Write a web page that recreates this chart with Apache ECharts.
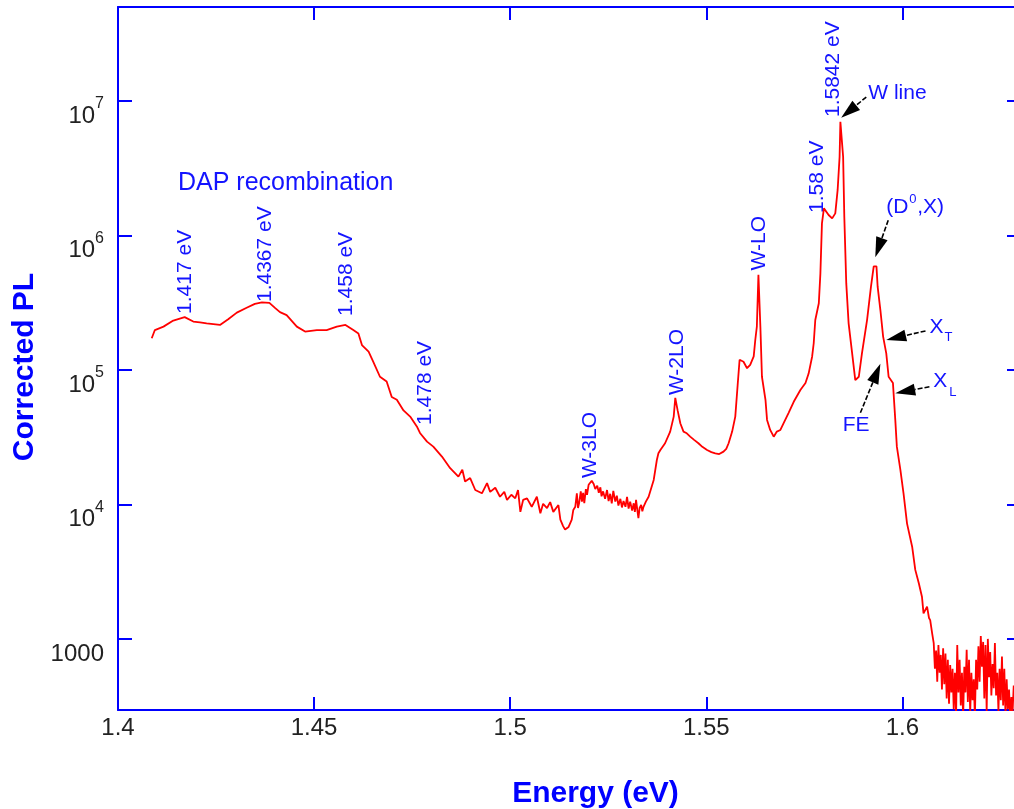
<!DOCTYPE html>
<html>
<head>
<meta charset="utf-8">
<script src="https://cdn.jsdelivr.net/npm/echarts@6/dist/echarts.min.js"></script>
<style>
  html, body { margin: 0; padding: 0; background: #fff; }
  #chart { width: 1014px; height: 809px; }
</style>
</head>
<body>
<div id="chart"></div>
<script>
// Photoluminescence spectrum: photon energy (eV) and corrected PL intensity
const energy = [
  1.4086, 1.4094, 1.4116, 1.4141, 1.4170, 1.4192, 1.4209, 1.4226, 1.4260, 1.4281,
  1.4303, 1.4328, 1.4349, 1.4367, 1.4386, 1.4401, 1.4413, 1.4430, 1.4456, 1.4477,
  1.4507, 1.4532, 1.4558, 1.4580, 1.4600, 1.4613, 1.4622, 1.4639, 1.4651, 1.4668,
  1.4685, 1.4698, 1.4711, 1.4728, 1.4745, 1.4762, 1.4770, 1.4788, 1.4804, 1.4826,
  1.4847, 1.4868, 1.4878, 1.4885, 1.4898, 1.4911, 1.4928, 1.4941, 1.4949, 1.4962,
  1.4974, 1.4985, 1.4992, 1.5003, 1.5013, 1.5020, 1.5026, 1.5033, 1.5043, 1.5055,
  1.5068, 1.5077, 1.5084, 1.5094, 1.5102, 1.5110, 1.5123, 1.5128, 1.5135, 1.5140,
  1.5149, 1.5157, 1.5161, 1.5166, 1.5170, 1.5173, 1.5176, 1.5180, 1.5183, 1.5186,
  1.5189, 1.5193, 1.5196, 1.5200, 1.5204, 1.5208, 1.5213, 1.5217, 1.5222, 1.5226,
  1.5230, 1.5233, 1.5237, 1.5242, 1.5247, 1.5251, 1.5255, 1.5259, 1.5263, 1.5268,
  1.5272, 1.5276, 1.5281, 1.5285, 1.5289, 1.5294, 1.5298, 1.5302, 1.5306, 1.5311,
  1.5315, 1.5318, 1.5321, 1.5324, 1.5327, 1.5330, 1.5334, 1.5337, 1.5340, 1.5346,
  1.5353, 1.5366, 1.5374, 1.5378, 1.5383, 1.5395, 1.5408, 1.5417, 1.5421, 1.5427,
  1.5434, 1.5442, 1.5449, 1.5459, 1.5469, 1.5480, 1.5490, 1.5502, 1.5513, 1.5523,
  1.5533, 1.5544, 1.5551, 1.5557, 1.5566, 1.5574, 1.5580, 1.5585, 1.5595, 1.5604,
  1.5612, 1.5621, 1.5625, 1.5629, 1.5633, 1.5638, 1.5642, 1.5651, 1.5655, 1.5663,
  1.5672, 1.5680, 1.5689, 1.5697, 1.5710, 1.5723, 1.5740, 1.5753, 1.5761, 1.5770,
  1.5774, 1.5778, 1.5787, 1.5791, 1.5795, 1.5800, 1.5812, 1.5821, 1.5829, 1.5835,
  1.5840, 1.5842, 1.5849, 1.5852, 1.5857, 1.5863, 1.5872, 1.5880, 1.5889, 1.5897,
  1.5910, 1.5920, 1.5927, 1.5934, 1.5937, 1.5944, 1.5951, 1.5959, 1.5965, 1.5976,
  1.5982, 1.5986, 1.5995, 1.6003, 1.6012, 1.6025, 1.6033, 1.6042, 1.6050, 1.6054,
  1.6063, 1.6068, 1.6071, 1.6076,
  1.6080, 1.6083, 1.6086, 1.6089, 1.6092, 1.6095, 1.6098, 1.6101, 1.6104, 1.6107,
  1.6110, 1.6113, 1.6116, 1.6119, 1.6122, 1.6125, 1.6128, 1.6131, 1.6134, 1.6137,
  1.6140, 1.6143, 1.6146, 1.6149, 1.6152, 1.6155, 1.6158, 1.6161, 1.6164, 1.6167,
  1.6170, 1.6173, 1.6176, 1.6179, 1.6182, 1.6185, 1.6188, 1.6191, 1.6194, 1.6197,
  1.6200, 1.6203, 1.6206, 1.6209, 1.6212, 1.6215, 1.6218, 1.6221, 1.6224, 1.6227,
  1.6230, 1.6233, 1.6236, 1.6239, 1.6242, 1.6245, 1.6248, 1.6251, 1.6254, 1.6257,
  1.6260, 1.6263, 1.6266, 1.6269, 1.6272, 1.6275, 1.6278, 1.6281, 1.6284
];
const intensity = [
  1.72e5, 1.98e5, 2.10e5, 2.33e5, 2.47e5, 2.29e5, 2.26e5, 2.22e5, 2.16e5, 2.38e5,
  2.67e5, 2.90e5, 3.10e5, 3.18e5, 3.15e5, 2.88e5, 2.69e5, 2.56e5, 2.10e5, 1.93e5,
  1.98e5, 1.98e5, 2.10e5, 2.16e5, 1.98e5, 1.87e5, 1.53e5, 1.37e5, 1.15e5, 8.9e4,
  8.2e4, 6.3e4, 6.0e4, 5.0e4, 4.5e4, 3.8e4, 3.4e4, 2.93e4, 2.69e4, 2.27e4,
  1.86e4, 1.61e4, 1.81e4, 1.48e4, 1.57e4, 1.28e4, 1.21e4, 1.44e4, 1.24e4, 1.33e4,
  1.14e4, 1.24e4, 1.08e4, 1.18e4, 1.11e4, 1.28e4, 8.8e3, 1.08e4, 1.11e4, 9.6e3,
  1.14e4, 8.6e3, 1.01e4, 9.4e3, 1.04e4, 8.8e3, 9.9e3, 7.7e3, 6.9e3, 6.5e3,
  6.8e3, 7.7e3, 9.1e3, 9.6e3, 1.21e4, 9.4e3, 1.03e4, 1.25e4, 1.05e4, 1.22e4,
  1.02e4, 1.30e4, 1.18e4, 1.40e4, 1.37e4, 1.50e4, 1.42e4, 1.30e4, 1.38e4, 1.22e4,
  1.34e4, 1.15e4, 1.25e4, 1.10e4, 1.28e4, 1.06e4, 1.20e4, 1.02e4, 1.26e4, 1.05e4,
  1.16e4, 9.8e3, 1.10e4, 9.5e3, 1.06e4, 9.6e3, 1.14e4, 9.3e3, 1.05e4, 9.0e3,
  1.02e4, 8.8e3, 1.08e4, 9.2e3, 7.9e3, 9.4e3, 9.9e3, 8.9e3, 9.6e3, 1.05e4,
  1.14e4, 1.52e4, 2.14e4, 2.40e4, 2.54e4, 2.85e4, 3.48e4, 4.5e4, 6.2e4, 5.0e4,
  4.0e4, 3.48e4, 3.40e4, 3.19e4, 3.02e4, 2.85e4, 2.68e4, 2.54e4, 2.45e4, 2.40e4,
  2.37e4, 2.47e4, 2.59e4, 2.85e4, 3.48e4, 4.5e4, 7.7e4, 1.19e5, 1.15e5, 1.03e5,
  1.09e5, 1.26e5, 1.67e5, 2.10e5, 5.1e5, 2.10e5, 8.9e4, 6.0e4, 4.25e4, 3.58e4,
  3.19e4, 3.48e4, 3.58e4, 4.0e4, 4.8e4, 5.8e4, 7.1e4, 8.0e4, 9.4e4, 1.26e5,
  1.58e5, 2.35e5, 3.13e5, 5.2e5, 1.23e6, 1.59e6, 1.42e6, 1.34e6, 1.46e6, 2.18e6,
  3.85e6, 7.0e6, 3.85e6, 1.38e6, 4.4e5, 2.22e5, 1.33e5, 8.4e4, 8.9e4, 1.33e5,
  2.35e5, 4.16e5, 5.9e5, 5.9e5, 4.16e5, 2.79e5, 1.77e5, 1.33e5, 8.9e4, 8.0e4,
  4.25e4, 2.69e4, 1.81e4, 1.21e4, 7.2e3, 4.85e3, 3.26e3, 2.59e3, 2.06e3, 1.55e3,
  1.74e3, 1.43e3, 1.38e3, 1.10e3,
  930, 600, 820, 480, 900, 560, 760, 420, 850, 460,
  780, 360, 700, 330, 640, 400, 600, 300, 560, 270,
  900, 400, 700, 320, 560, 260, 620, 400, 830, 340,
  700, 280, 560, 350, 500, 260, 700, 420, 880, 480,
  1050, 620, 950, 360, 900, 290, 1000, 520, 800, 380,
  650, 430, 930, 380, 560, 290, 600, 350, 740, 320,
  600, 270, 500, 300, 420, 260, 370, 280, 450
];

// Axis ranges
const X_MIN = 1.4, X_MAX = 1.63, X_STEP = 0.05;
const Y_MIN = 296, Y_MAX = 5.0e7;

// Rotated peak tags, anchored at the lower end of the text (energy, intensity)
const peakTags = [
  { text: '1.417 eV',  at: [1.4171, 2.61e5] },
  { text: '1.4367 eV', at: [1.4375, 3.2e5] },
  { text: '1.458 eV',  at: [1.4582, 2.52e5] },
  { text: '1.478 eV',  at: [1.4783, 3.9e4] },
  { text: 'W-3LO',     at: [1.5204, 1.57e4] },
  { text: 'W-2LO',     at: [1.5426, 6.5e4] },
  { text: 'W-LO',      at: [1.5635, 5.5e5] },
  { text: '1.58 eV',   at: [1.5783, 1.47e6] },
  { text: '1.5842 eV', at: [1.5824, 7.6e6] }
];

// Horizontal notes: anchor in data space, small pixel offsets for sub/superscripts
const notes = [
  { text: 'DAP recombination', at: [1.4153, 2.45e6], size: 25, dx: 0, dy: 0 },
  { text: 'W line', at: [1.5913, 1.15e7], size: 21, dx: 0, dy: 0 },
  { text: '(D',  at: [1.5959, 1.63e6], size: 21, dx: 0,  dy: 0 },
  { text: '0',   at: [1.5959, 1.63e6], size: 13, dx: 23, dy: -8 },
  { text: ',X)', at: [1.5959, 1.63e6], size: 21, dx: 31, dy: 0 },
  { text: 'X',   at: [1.6069, 2.09e5], size: 21, dx: 0,  dy: 0 },
  { text: 'T',   at: [1.6069, 2.09e5], size: 13, dx: 15, dy: 11 },
  { text: 'X',   at: [1.6079, 8.3e4],  size: 21, dx: 0,  dy: 0 },
  { text: 'L',   at: [1.6079, 8.3e4],  size: 13, dx: 16, dy: 12 },
  { text: 'FE',  at: [1.5848, 3.9e4],  size: 21, dx: 0,  dy: 0 }
];

// Pointer arrows: tail and tip in data space
const arrows = [
  { from: [1.5908, 1.07e7], to: [1.5844, 7.5e6] },
  { from: [1.5964, 1.30e6], to: [1.5931, 6.9e5] },
  { from: [1.6059, 1.95e5], to: [1.5959, 1.67e5] },
  { from: [1.6069, 7.5e4],  to: [1.5982, 6.7e4] },
  { from: [1.5893, 4.8e4],  to: [1.5944, 1.11e5] }
];

const BLUE = '#0000ff';
const TEXT_BLUE = '#1414ff';
const SANS = "'Liberation Sans', Arial, sans-serif";

const chart = echarts.init(document.getElementById('chart'), null, { renderer: 'canvas' });

function axisBase(extra) {
  return Object.assign({
    axisLine: { show: true, onZero: false, lineStyle: { color: BLUE, width: 2 } },
    axisTick: { show: true, inside: true, length: 13, lineStyle: { color: BLUE, width: 2 } },
    splitLine: { show: false },
    minorTick: { show: false }
  }, extra);
}

function powerLabel(v) {
  const n = Math.round(Math.log10(v));
  if (Math.abs(v - Math.pow(10, n)) / v > 1e-6) return '';
  if (n === 3) return '{b|1000}';
  return '{b|10}{s|' + n + '}';
}

const option = {
  backgroundColor: '#ffffff',
  animation: false,
  grid: { left: 118, right: -6, top: 7, bottom: 99, containLabel: false, outerBoundsMode: 'none' },
  xAxis: [
    axisBase({
      type: 'value', position: 'bottom', min: X_MIN, max: X_MAX, interval: X_STEP,
      axisLabel: {
        color: '#222', fontFamily: SANS, fontSize: 24, margin: 6,
        showMaxLabel: false,
        formatter: v => String(parseFloat(v.toFixed(2)))
      },
      name: 'Energy (eV)', nameLocation: 'middle', nameGap: 69,
      nameTextStyle: { color: BLUE, fontFamily: SANS, fontWeight: 'bold', fontSize: 30, padding: [0, 0, 0, 53] }
    }),
    axisBase({
      type: 'value', position: 'top', min: X_MIN, max: X_MAX, interval: X_STEP,
      axisLabel: { show: false }
    })
  ],
  yAxis: [
    axisBase({
      type: 'log', logBase: 10, position: 'left', min: Y_MIN, max: Y_MAX,
      axisTick: { show: true, inside: true, length: 14, lineStyle: { color: BLUE, width: 2 } },
      axisLabel: {
        margin: 14, padding: [22, 0, 0, 0],
        showMinLabel: false, showMaxLabel: false,
        formatter: powerLabel,
        rich: {
          b: { fontFamily: SANS, fontSize: 24, color: '#222', lineHeight: 32, verticalAlign: 'bottom' },
          s: { fontFamily: SANS, fontSize: 16, color: '#222', lineHeight: 15, verticalAlign: 'top' }
        }
      },
      name: 'Corrected PL', nameLocation: 'middle', nameGap: 66,
      nameTextStyle: { color: BLUE, fontFamily: SANS, fontWeight: 'bold', fontSize: 30, padding: [0, 17, 0, 0] }
    }),
    axisBase({
      type: 'log', logBase: 10, position: 'right', min: Y_MIN, max: Y_MAX,
      axisLabel: { show: false }
    })
  ],
  series: [{
    type: 'line',
    xAxisIndex: 0, yAxisIndex: 0,
    data: energy.map((e, i) => [e, intensity[i]]),
    showSymbol: false,
    symbol: 'none',
    clip: true,
    lineStyle: { color: '#ff0000', width: 1.8 },
    silent: true
  }]
};

chart.setOption(option);

// Annotations placed through the chart's own coordinate conversion
function toPx(p) { return chart.convertToPixel({ gridIndex: 0 }, p); }

const graphics = [];
peakTags.forEach(t => {
  const [x, y] = toPx(t.at);
  graphics.push({
    type: 'text', x: x, y: y, rotation: Math.PI / 2, silent: true,
    style: { text: t.text, fill: TEXT_BLUE, font: '21px ' + SANS, align: 'left', verticalAlign: 'middle' }
  });
});
notes.forEach(n => {
  const [x, y] = toPx(n.at);
  graphics.push({
    type: 'text', x: x + n.dx, y: y + n.dy, silent: true,
    style: { text: n.text, fill: TEXT_BLUE, font: n.size + 'px ' + SANS, align: 'left', verticalAlign: 'middle' }
  });
});
arrows.forEach(a => {
  const [x1, y1] = toPx(a.from);
  const [x2, y2] = toPx(a.to);
  const dx = x2 - x1, dy = y2 - y1;
  const len = Math.sqrt(dx * dx + dy * dy);
  const ux = dx / len, uy = dy / len;
  const headLen = Math.min(20, len * 0.6), half = 6;
  const bx = x2 - ux * headLen, by = y2 - uy * headLen;
  graphics.push({
    type: 'line', silent: true,
    shape: { x1: x1, y1: y1, x2: bx, y2: by },
    style: { stroke: '#000', lineWidth: 1.6, lineDash: [5, 2] }
  });
  graphics.push({
    type: 'polygon', silent: true,
    shape: { points: [[x2, y2], [bx - uy * half, by + ux * half], [bx + uy * half, by - ux * half]] },
    style: { fill: '#000' }
  });
});

chart.setOption({ graphic: graphics });
</script>
</body>
</html>
